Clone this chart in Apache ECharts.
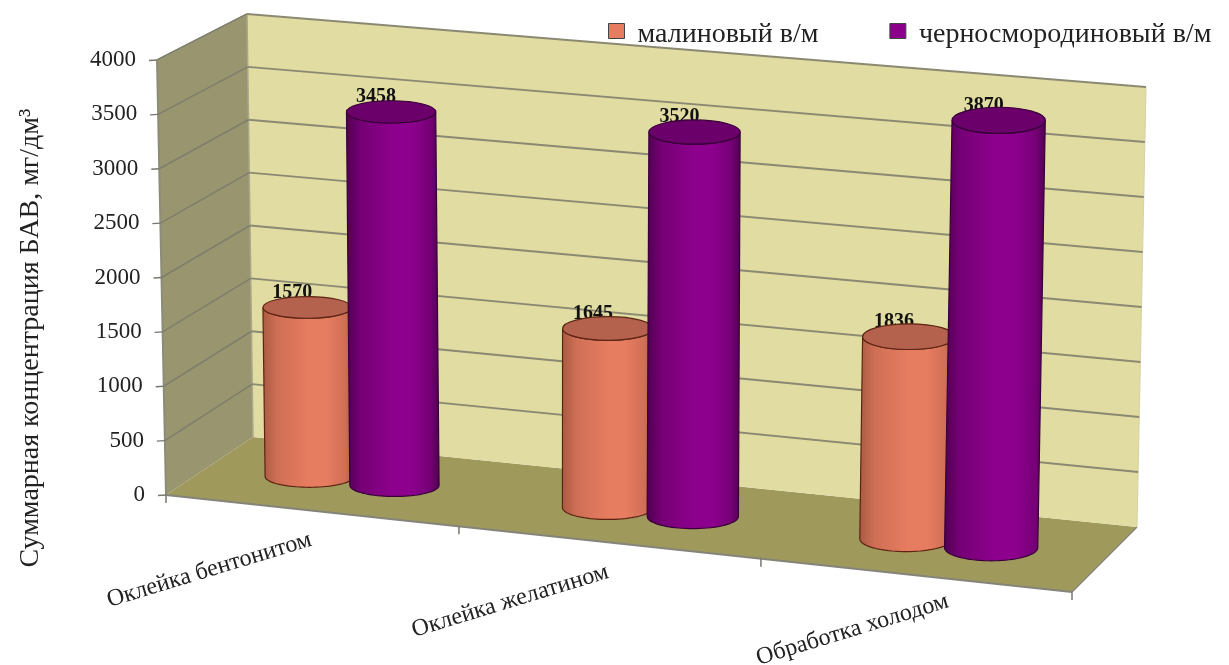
<!DOCTYPE html>
<html>
<head>
<meta charset="utf-8">
<style>html,body{margin:0;padding:0;background:#fff}#chart{width:1229px;height:665px}</style>
<script src="https://cdn.jsdelivr.net/npm/echarts@6/dist/echarts.min.js"></script>
</head>
<body>
<div id="chart"></div>
<script>
// Data
const categories = ['Оклейка бентонитом', 'Оклейка желатином', 'Обработка холодом'];
const raspberry = [1570, 1645, 1836];
const blackcurrant = [3458, 3520, 3870];
const valueTicks = [0, 500, 1000, 1500, 2000, 2500, 3000, 3500, 4000];
const raspberryName = 'малиновый в/м';
const blackcurrantName = 'черносмородиновый в/м';
const axisTitle = 'Суммарная концентрация БАВ, мг/дм³';

// The plot box corners: u runs along the categories, w into the depth, t up the value scale.
const box = {
  bottom: { fl: [166, 495], fr: [1072, 592], bl: [253, 437], br: [1137, 527] },
  top: { fl: [157, 60], fr: [1083, 145], bl: [247, 14], br: [1146, 87] }
};
const FONT = '"Liberation Serif","Times New Roman",serif';
const GRID = { left: 166, top: 60, width: 906, height: 435 };

function lerp(a, b, k) { return [a[0] + (b[0] - a[0]) * k, a[1] + (b[1] - a[1]) * k]; }
function plane(c, u, w) { return lerp(lerp(c.fl, c.fr, u), lerp(c.bl, c.br, u), w); }
function project(u, w, t) { return lerp(plane(box.bottom, u, w), plane(box.top, u, w), t); }

// Scale helpers: pixel positions from the cartesian axes, normalised for the box projection.
function uOf(api, index) { return (api.coord([index, 0])[0] - GRID.left) / GRID.width - 0.01; }
function tOf(api, value) { return (GRID.top + GRID.height - api.coord([0, value])[1]) / GRID.height; }

function poly(points, fill, stroke, lineWidth) {
  return { type: 'polygon', shape: { points }, style: { fill, stroke: stroke || 'none', lineWidth: lineWidth || 0 } };
}
function line(a, b, stroke, lineWidth) {
  return { type: 'line', shape: { x1: a[0], y1: a[1], x2: b[0], y2: b[1] }, style: { stroke, lineWidth } };
}

function renderWalls() {
  return {
    type: 'group',
    children: [
      poly([project(0, 0, 0), project(0, 1, 0), project(1, 1, 0), project(1, 0, 0)], '#9f9a5c'),
      poly([project(0, 1, 0), project(0, 1, 1), project(1, 1, 1), project(1, 1, 0)], '#e1dca2'),
      poly([project(0, 0, 0), project(0, 0, 1), project(0, 1, 1), project(0, 1, 0)], '#98956f'),
      line(project(0, 0, 0), project(0, 0, 1), '#8d8c7a', 2),
      line(project(0, 0, 0), project(1, 0, 0), '#85847a', 2),
      line(project(1, 0, 0), project(1, 1, 0), '#85847a', 1.5),
      line(project(0, 1, 0), project(0, 1, 1), '#aaa88c', 1.5),
      line(project(1, 1, 0), project(1, 1, 1), '#d6d2a6', 1),
      line(project(0, 0, 1), project(0, 1, 1), '#b5b3a0', 1.5)
    ]
  };
}

function renderValueTick(params, api) {
  const value = api.value(1);
  const t = tOf(api, value);
  const front = project(0, 0, t);
  const children = [
    line([front[0] - 8, front[1] + 0.5], front, '#77776f', 1.5),
    {
      type: 'text',
      x: front[0] - 21,
      y: front[1],
      style: { text: String(value), font: '23px ' + FONT, fill: '#222', align: 'right', verticalAlign: 'middle' }
    }
  ];
  if (value > 0) {
    children.push(line(front, project(0, 1, t), '#7f7e6c', 1.5));
    children.push(line(project(0, 1, t), project(1, 1, t), '#8b8972', 2));
  }
  return { type: 'group', children };
}

function renderCategory(params, api) {
  const i = api.value(0);
  const u = uOf(api, i);
  const edge = project(u, 0, 0);
  const tickAt = function (k) { return k === 0 ? 0 : k === categories.length ? 1 : k / categories.length - 0.01; };
  const nudgeX = [3, -2, 36][i];
  const nudgeY = [29, 29, 26][i];
  const children = [{
    type: 'text',
    x: edge[0] + nudgeX,
    y: edge[1] + nudgeY,
    rotation: 0.295,
    style: { text: categories[i], font: '24px ' + FONT, fill: '#222', align: 'right', verticalAlign: 'middle' }
  }];
  const mark = function (k) {
    const p = project(tickAt(k), 0, 0);
    return line(p, [p[0], p[1] + 8], '#77776f', 1.5);
  };
  children.push(mark(i));
  if (i === categories.length - 1) children.push(mark(i + 1));
  return { type: 'group', children };
}

// Cylinder for one bar: body with a horizontal shading, dark cap and the value just behind the cap.
function cylinder(colors, side) {
  return function (params, api) {
    const i = api.value(0);
    const value = api.value(1);
    const u = uOf(api, i) + side;
    const base = project(u, 0.5, 0);
    const top = project(u, 0.5, tOf(api, value));
    const rx = 44 + 3 * u;
    const ry = 10.5 + 3 * u;
    const body = [];
    const steps = 40;
    for (let s = 0; s <= steps; s++) {
      const a = Math.PI * s / steps;
      body.push([top[0] + rx * Math.cos(a), top[1] + ry * Math.sin(a)]);
    }
    for (let s = 0; s <= steps; s++) {
      const a = Math.PI * s / steps;
      body.push([base[0] - rx * Math.cos(a), base[1] + ry * Math.sin(a)]);
    }
    const shade = {
      type: 'linear', x: 0, y: 0, x2: 1, y2: 0,
      colorStops: [
        { offset: 0, color: colors.dark },
        { offset: 0.16, color: colors.mid },
        { offset: 0.5, color: colors.light },
        { offset: 0.7, color: colors.light },
        { offset: 0.9, color: colors.mid },
        { offset: 1, color: colors.dark }
      ]
    };
    return {
      type: 'group',
      children: [
        {
          type: 'text',
          x: top[0] - 15,
          y: top[1] - 15,
          style: { text: String(value), font: 'bold 20px ' + FONT, fill: '#111', align: 'center', verticalAlign: 'middle' }
        },
        poly(body, shade, colors.edge, 1.2),
        {
          type: 'ellipse',
          shape: { cx: top[0], cy: top[1], rx, ry },
          style: { fill: colors.cap, stroke: colors.edge, lineWidth: 1.2 }
        }
      ]
    };
  };
}

const raspberryColors = { dark: '#a85a42', mid: '#cf6f55', light: '#e67c60', cap: '#b4624e', edge: '#5c2412' };
const blackcurrantColors = { dark: '#4f0050', mid: '#750075', light: '#8d008d', cap: '#6b006b', edge: '#380038' };

const chart = echarts.init(document.getElementById('chart'));
chart.setOption({
  animation: false,
  backgroundColor: '#ffffff',
  grid: { left: GRID.left, top: GRID.top, width: GRID.width, height: GRID.height },
  xAxis: { type: 'category', data: categories, show: false },
  yAxis: { type: 'value', min: 0, max: 4000, interval: 500, show: false },
  legend: {
    left: 608,
    top: 21,
    padding: 0,
    itemWidth: 16,
    itemHeight: 15,
    itemGap: 71,
    icon: 'rect',
    formatter: name => '{a|' + name + '}',
    textStyle: {
      rich: { a: { fontFamily: FONT, fontSize: 28, color: '#222', padding: [8, 0, 0, 8] } }
    },
    itemStyle: { borderColor: '#444', borderWidth: 1 },
    data: [raspberryName, blackcurrantName]
  },
  graphic: [{
    type: 'text',
    x: 31,
    y: 338,
    rotation: Math.PI / 2,
    style: { text: axisTitle, font: '28px ' + FONT, fill: '#222', align: 'center', verticalAlign: 'middle' }
  }],
  series: [
    { type: 'custom', silent: true, renderItem: renderWalls, data: [[0, 0]] },
    { type: 'custom', silent: true, renderItem: renderValueTick, data: valueTicks.map(v => [0, v]) },
    { type: 'custom', silent: true, renderItem: renderCategory, data: categories.map((c, i) => [i, 0]) },
    {
      type: 'custom', name: raspberryName, renderItem: cylinder(raspberryColors, -0.045),
      itemStyle: { color: '#e67c60' }, data: raspberry.map((v, i) => [i, v])
    },
    {
      type: 'custom', name: blackcurrantName, renderItem: cylinder(blackcurrantColors, 0.05),
      itemStyle: { color: '#8b008b' }, data: blackcurrant.map((v, i) => [i, v])
    }
  ]
});
</script>
</body>
</html>
